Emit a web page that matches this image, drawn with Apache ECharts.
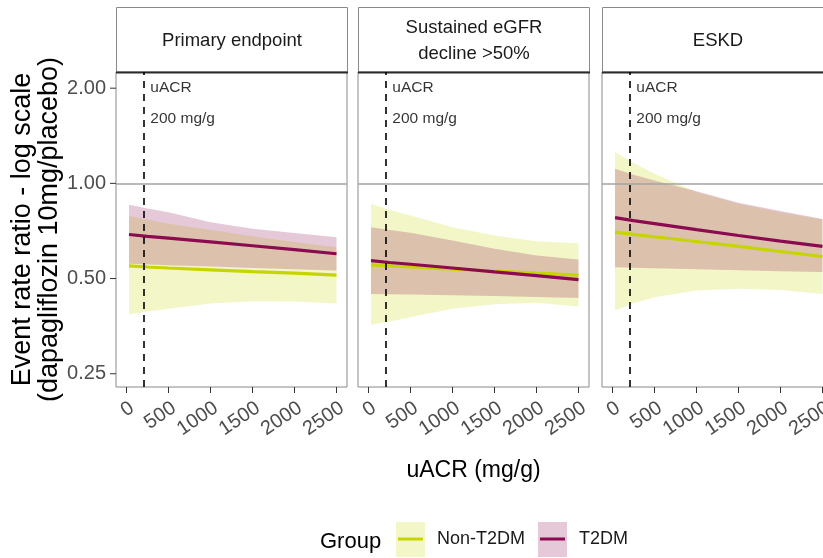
<!DOCTYPE html>
<html><head><meta charset="utf-8">
<script src="https://cdn.jsdelivr.net/npm/echarts@6/dist/echarts.min.js"></script>
<style>html,body{margin:0;padding:0;background:#fff}#c{width:823px;height:558px}</style>
</head><body><div id="c"></div>
<script>
// ---------- data ----------
const groups = ['Non-T2DM', 'T2DM'];
const panelTitles = ['Primary endpoint', 'Sustained eGFR\ndecline >50%', 'ESKD'];
const uacr = [30, 250, 500, 1000, 1500, 2000, 2500];

// Primary endpoint
const primaryNonFit  = [0.548, 0.544, 0.540, 0.533, 0.526, 0.520, 0.513];
const primaryNonLow  = [0.385, 0.393, 0.401, 0.417, 0.424, 0.423, 0.417];
const primaryNonHigh = [0.788, 0.769, 0.745, 0.713, 0.681, 0.652, 0.628];
const primaryT2Fit   = [0.689, 0.680, 0.671, 0.653, 0.635, 0.617, 0.599];
const primaryT2Low   = [0.557, 0.554, 0.551, 0.546, 0.540, 0.535, 0.530];
const primaryT2High  = [0.856, 0.833, 0.811, 0.754, 0.718, 0.697, 0.676];

// Sustained eGFR decline >50%
const egfrNonFit  = [0.552, 0.548, 0.544, 0.535, 0.528, 0.520, 0.513];
const egfrNonLow  = [0.357, 0.366, 0.377, 0.401, 0.415, 0.419, 0.408];
const egfrNonHigh = [0.862, 0.825, 0.792, 0.727, 0.684, 0.656, 0.647];
const egfrT2Fit   = [0.570, 0.562, 0.555, 0.540, 0.525, 0.511, 0.496];
const egfrT2Low   = [0.447, 0.446, 0.445, 0.443, 0.440, 0.437, 0.434];
const egfrT2High  = [0.727, 0.712, 0.698, 0.660, 0.621, 0.591, 0.574];

// ESKD
const eskdNonFit  = [0.701, 0.690, 0.678, 0.655, 0.632, 0.609, 0.587];
const eskdNonLow  = [0.396, 0.418, 0.436, 0.458, 0.464, 0.460, 0.447];
const eskdNonHigh = [1.257, 1.160, 1.073, 0.939, 0.862, 0.811, 0.769];
const eskdT2Fit   = [0.779, 0.762, 0.746, 0.714, 0.684, 0.657, 0.632];
const eskdT2Low   = [0.543, 0.541, 0.539, 0.535, 0.531, 0.527, 0.524];
const eskdT2High  = [1.113, 1.065, 1.022, 0.945, 0.868, 0.817, 0.772];

const yTicks = [0.25, 0.5, 1, 2];
const xTicks = [0, 500, 1000, 1500, 2000, 2500];
const refRatio = 1;
const uacrCutoff = 200;
const cutoffLabels = ['uACR', '200 mg/g'];
const cutoffLabelY = [2, 1.6];

// ---------- styling ----------
const FONT = 'Liberation Sans, Arial, sans-serif';
const lineColors = ['#c6d500', '#8b0a50'];
const bandColors = ['rgba(200,214,0,0.22)', 'rgba(139,10,80,0.22)'];

const panels = [
  {non: [primaryNonFit, primaryNonLow, primaryNonHigh], t2: [primaryT2Fit, primaryT2Low, primaryT2High]},
  {non: [egfrNonFit, egfrNonLow, egfrNonHigh], t2: [egfrT2Fit, egfrT2Low, egfrT2High]},
  {non: [eskdNonFit, eskdNonLow, eskdNonHigh], t2: [eskdT2Fit, eskdT2Low, eskdT2High]}
];

const gridLefts = [116, 358, 602];
const gridWidth = 231;
const gridTop = 72, gridHeight = 315;

function bandSeries(idx, lo, hi, color, name) {
  return {
    type: 'custom', name: name, xAxisIndex: idx, yAxisIndex: idx, silent: true,
    data: uacr.map((x, i) => [x, lo[i], hi[i]]),
    encode: {x: 0, y: [1, 2]},
    renderItem: function (params, api) {
      if (params.dataIndex !== 0) return;
      const pts = [];
      for (let i = 0; i < uacr.length; i++) pts.push(api.coord([uacr[i], hi[i]]));
      for (let i = uacr.length - 1; i >= 0; i--) pts.push(api.coord([uacr[i], lo[i]]));
      return {type: 'polygon', shape: {points: pts}, style: {fill: color, stroke: null}};
    }
  };
}

const grids = [], xAxes = [], yAxes = [], series = [], graphics = [];
panels.forEach((p, k) => {
  grids.push({left: gridLefts[k], top: gridTop, width: gridWidth, height: gridHeight,
    outerBoundsMode: 'none', containLabel: false,
    show: true, borderColor: '#8a8a8a', borderWidth: 1, backgroundColor: 'transparent'});
  xAxes.push({
    type: 'value', gridIndex: k, min: -125, max: 2625,
    axisLine: {show: false}, splitLine: {show: false},
    axisTick: {show: true, length: 6, customValues: xTicks, lineStyle: {color: '#333', width: 1}},
    axisLabel: {customValues: xTicks, rotate: 34, margin: 11, align: 'right', verticalAlign: 'top',
      color: '#4d4d4d', fontSize: 20, fontFamily: FONT, formatter: v => String(v)},
    name: k === 1 ? 'uACR (mg/g)' : '', nameLocation: 'middle', nameGap: 72,
    nameTextStyle: {fontSize: 23, color: '#000', fontFamily: FONT}
  });
  yAxes.push({
    type: 'log', logBase: 2, gridIndex: k, min: 0.227, max: 2.25,
    axisLine: {show: false}, splitLine: {show: false},
    axisTick: {show: false},
    axisLabel: {show: k === 0, customValues: yTicks, margin: 10, color: '#4d4d4d', fontSize: 20, fontFamily: FONT,
      formatter: v => Number(v).toFixed(2)},
    name: k === 0 ? 'Event rate ratio - log scale\n(dapagliflozin 10mg/placebo)' : '',
    nameLocation: 'middle', nameRotate: 90, nameGap: 52,
    nameTextStyle: {fontSize: 27, lineHeight: 27, color: '#000', fontFamily: FONT}
  });
  series.push(bandSeries(k, p.non[1], p.non[2], bandColors[0], groups[0] + ' band'));
  series.push(bandSeries(k, p.t2[1], p.t2[2], bandColors[1], groups[1] + ' band'));
  series.push({type: 'line', name: groups[0], xAxisIndex: k, yAxisIndex: k, showSymbol: false, silent: true,
    data: uacr.map((x, i) => [x, p.non[0][i]]), lineStyle: {color: lineColors[0], width: 3.2}, itemStyle: {color: lineColors[0]}});
  series.push({type: 'line', name: groups[1], xAxisIndex: k, yAxisIndex: k, showSymbol: false, silent: true,
    data: uacr.map((x, i) => [x, p.t2[0][i]]), lineStyle: {color: lineColors[1], width: 3.2}, itemStyle: {color: lineColors[1]}});
  series.push({
    type: 'scatter', name: 'cutoff', xAxisIndex: k, yAxisIndex: k, silent: true, symbolSize: 0,
    data: cutoffLabels.map((t, i) => [uacrCutoff, cutoffLabelY[i], t]),
    label: {show: true, position: 'right', distance: 7, formatter: d => d.value[2],
      color: '#000', fontSize: 15.5, fontFamily: FONT},
    markLine: {
      silent: true, symbol: 'none', label: {show: false}, animation: false,
      data: [
        {yAxis: refRatio, lineStyle: {color: '#a3a3a3', width: 1.6, type: 'solid'}},
        {xAxis: uacrCutoff, lineStyle: {color: '#000', width: 1.6, type: [7, 6]}}
      ]
    },
    z: 5
  });
  // strip header
  graphics.push({type: 'rect', shape: {x: gridLefts[k] + 0.5, y: 7.5, width: gridWidth, height: 64.5},
    style: {fill: '#fff', stroke: '#8a8a8a', lineWidth: 1}, z: 1});
  graphics.push({type: 'line', shape: {x1: gridLefts[k], y1: 72.5, x2: gridLefts[k] + gridWidth + 1, y2: 72.5},
    style: {stroke: '#2b2b2b', lineWidth: 2}, z: 2});
  graphics.push({type: 'text', x: gridLefts[k] + gridWidth / 2 + 0.5, y: 41,
    style: {text: panelTitles[k], fill: '#1a1a1a', font: '18.5px ' + FONT, align: 'center', verticalAlign: 'middle', lineHeight: 26}, z: 2});
});

// y-axis tick marks of the first panel, placed through the axis scale
series.push({
  type: 'custom', name: 'yticks', xAxisIndex: 0, yAxisIndex: 0, silent: true, clip: false,
  data: yTicks.map(v => [-125, v]),
  renderItem: function (params, api) {
    const pt = api.coord([api.value(0), api.value(1)]);
    return {type: 'line', shape: {x1: pt[0] - 6, y1: pt[1], x2: pt[0], y2: pt[1]},
      style: {stroke: '#333', lineWidth: 1}};
  }
});

// legend key backgrounds and title
graphics.push({type: 'text', x: 320, y: 542, style: {text: 'Group', fill: '#000', font: '22px ' + FONT, verticalAlign: 'middle'}});
graphics.push({type: 'rect', shape: {x: 396, y: 522, width: 29, height: 35}, style: {fill: bandColors[0]}, z: 0});
graphics.push({type: 'rect', shape: {x: 538, y: 522, width: 29, height: 35}, style: {fill: bandColors[1]}, z: 0});

const legendBase = {orient: 'horizontal', top: 530, padding: 0, itemWidth: 25, itemHeight: 3, icon: 'rect',
  selectedMode: false, textStyle: {fontSize: 18, color: '#1a1a1a', fontFamily: FONT, padding: [0, 0, 0, 9]}};

const chart = echarts.init(document.getElementById('c'), null, {renderer: 'canvas'});
chart.setOption({
  animation: false,
  backgroundColor: '#fff',
  grid: grids, xAxis: xAxes, yAxis: yAxes, series: series,
  legend: [
    Object.assign({}, legendBase, {left: 398, data: [groups[0]]}),
    Object.assign({}, legendBase, {left: 540, data: [groups[1]]})
  ],
  graphic: {elements: graphics}
});
</script></body></html>
